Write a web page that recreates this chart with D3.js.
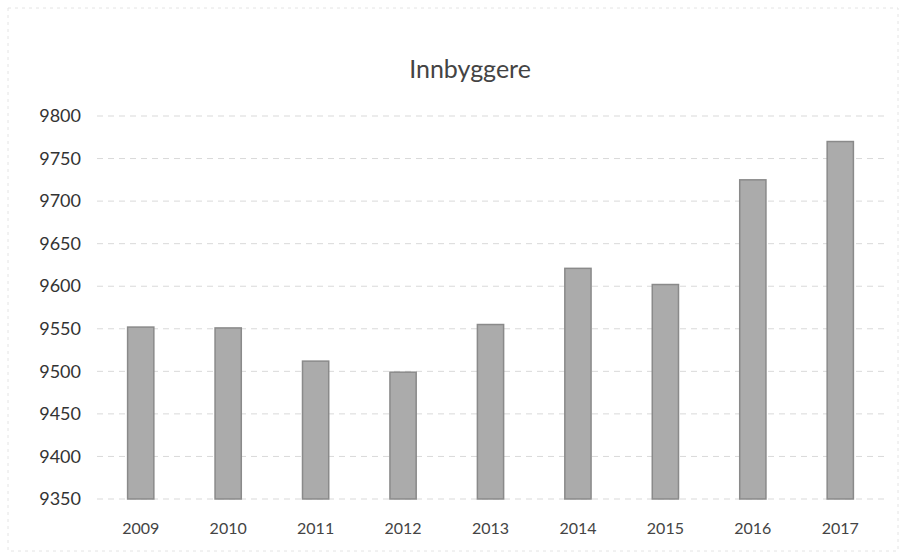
<!DOCTYPE html>
<html>
<head>
<meta charset="utf-8">
<script src="https://cdn.jsdelivr.net/npm/d3@7"></script>
<style>
  body { margin: 0; background: #fff; }
  svg { display: block; font-family: Lato, "Open Sans", sans-serif; }
</style>
</head>
<body>
<div id="chart"></div>
<script>
const years = ['2009', '2010', '2011', '2012', '2013', '2014', '2015', '2016', '2017'];
const innbyggere = [9552, 9551, 9512, 9499, 9555, 9621, 9602, 9725, 9770];
const yTicks = [9350, 9400, 9450, 9500, 9550, 9600, 9650, 9700, 9750, 9800];

const width = 906, height = 559;
const margin = { top: 116, right: 22, bottom: 60, left: 97 };

const svg = d3.select('#chart')
    .append('svg')
    .attr('width', width)
    .attr('height', height);

// faint scanned border of the chart area
svg.append('rect')
    .attr('x', 8).attr('y', 8)
    .attr('width', width - 16).attr('height', height - 16)
    .attr('fill', 'none')
    .attr('stroke', '#e4e4e4')
    .attr('stroke-dasharray', '3,4');

const x = d3.scaleBand()
    .domain(years)
    .range([margin.left, width - margin.right])
    .paddingInner(0.7)
    .paddingOuter(0.35);

const y = d3.scaleLinear()
    .domain([9350, 9800])
    .range([height - margin.bottom, margin.top]);

// gridlines
svg.append('g')
    .selectAll('line')
    .data(yTicks)
    .join('line')
    .attr('x1', margin.left)
    .attr('x2', width - margin.right)
    .attr('y1', d => y(d))
    .attr('y2', d => y(d))
    .attr('stroke', '#d9d9d9')
    .attr('stroke-dasharray', '6,5');

// y axis labels
const yAxis = d3.axisLeft(y).tickValues(yTicks).tickFormat(d3.format('d')).tickSize(0).tickPadding(16);
svg.append('g')
    .attr('transform', `translate(${margin.left},0)`)
    .call(yAxis)
    .attr('font-family', null)
    .call(g => g.select('.domain').remove())
    .selectAll('text')
    .style('font-size', '18px')
    .style('fill', '#333');

// x axis labels
const xAxis = d3.axisBottom(x).tickSize(0).tickPadding(24);
svg.append('g')
    .attr('transform', `translate(0,${height - margin.bottom})`)
    .call(xAxis)
    .attr('font-family', null)
    .call(g => g.select('.domain').remove())
    .selectAll('text')
    .style('font-size', '16px')
    .style('fill', '#444');

// bars
svg.append('g')
    .selectAll('rect')
    .data(innbyggere)
    .join('rect')
    .attr('x', (d, i) => x(years[i]))
    .attr('y', d => y(d))
    .attr('width', x.bandwidth())
    .attr('height', d => y(9350) - y(d))
    .attr('fill', '#ababab')
    .attr('stroke', '#8a8a8a')
    .attr('stroke-width', 1.5);

// title
svg.append('text')
    .attr('x', 470)
    .attr('y', 78)
    .attr('text-anchor', 'middle')
    .style('font-size', '25px')
    .style('fill', '#444')
    .text('Innbyggere');
</script>
</body>
</html>
